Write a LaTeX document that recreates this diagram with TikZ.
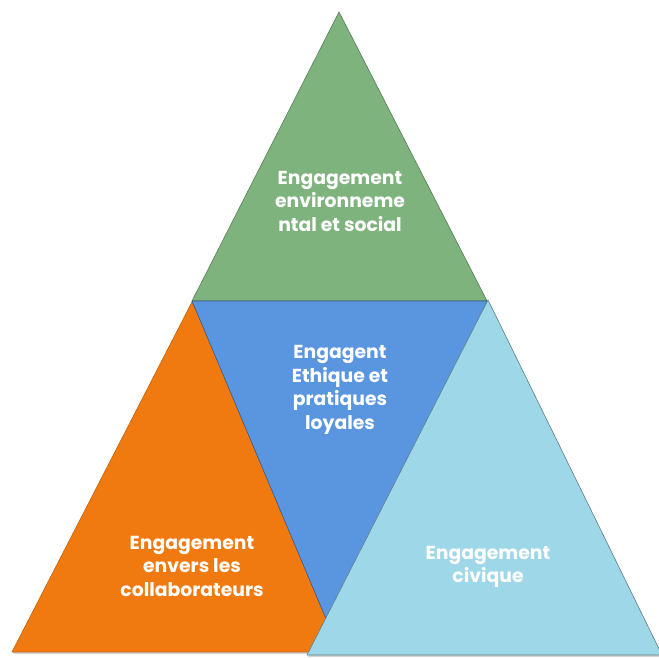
\documentclass[tikz,border=0pt]{standalone}
\usepackage{fontspec}
\setmainfont{Poppins}
\usetikzlibrary{shadows}
\definecolor{cgreen}{RGB}{126,179,126}
\definecolor{cblue}{RGB}{90,150,224}
\definecolor{corange}{RGB}{240,122,16}
\definecolor{clight}{RGB}{158,216,232}
\tikzset{
  tri/.style={line width=0.6pt, line join=miter,
    drop shadow={opacity=0.35, shadow xshift=1.2pt, shadow yshift=-1.8pt}},
  lab/.style={text=white, font=\bfseries\fontsize{18.8}{23.5}\selectfont, align=center, inner sep=0pt}
}
\begin{document}
\begin{tikzpicture}[x=1pt,y=-1pt]
\useasboundingbox (0,0) rectangle (659,658);
% green top triangle
\filldraw[tri, fill=cgreen, draw=cgreen!70!black] (339,12) -- (487,301) -- (192,301) -- cycle;
% orange left triangle
\filldraw[tri, fill=corange, draw=corange!80!black] (192,302) -- (372,652) -- (12,652) -- cycle;
% blue inverted triangle
\filldraw[tri, fill=cblue, draw=cblue!60!black] (192,301) -- (487,301) -- (340,652) -- cycle;
% light blue right triangle
\filldraw[tri, fill=clight, draw=clight!60!black] (488,300) -- (662,655) -- (307,655) -- cycle;

\node[lab] (g) at (340,201) {Engagement\\environneme\\ntal et social};
\node[lab] (b) at (340,390) {Engagent\\Ethique et\\pratiques\\loyales};
\node[lab] (o) at (192,566) {Engagement\\envers les\\collaborateurs};
\node[lab] (l) at (488,567) {Engagement\\civique};
\end{tikzpicture}
\end{document}
